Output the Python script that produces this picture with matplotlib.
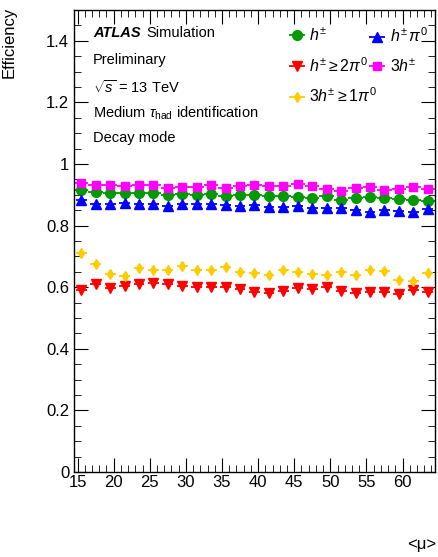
import numpy as np
import matplotlib
matplotlib.use("Agg")
import matplotlib.pyplot as plt
from matplotlib.ticker import MultipleLocator

plt.rcParams['font.family'] = ['Liberation Sans', 'DejaVu Sans']
plt.rcParams['mathtext.fontset'] = 'custom'
plt.rcParams['mathtext.rm'] = 'Liberation Sans'
plt.rcParams['mathtext.it'] = 'Liberation Sans:italic'
plt.rcParams['mathtext.bf'] = 'Liberation Sans:bold'

# --- data: efficiency vs <mu>, bins of width 2 ---
mu = np.arange(15.5, 64.0, 2.0)

eff_1p0n = [0.915, 0.909, 0.905, 0.905, 0.905, 0.906, 0.900, 0.901, 0.900, 0.902, 0.896, 0.898, 0.899,
            0.895, 0.895, 0.894, 0.890, 0.896, 0.883, 0.890, 0.892, 0.890, 0.887, 0.882, 0.879]
eff_1p1n = [0.882, 0.871, 0.871, 0.872, 0.871, 0.869, 0.864, 0.869, 0.870, 0.871, 0.867, 0.864, 0.867,
            0.860, 0.862, 0.865, 0.856, 0.856, 0.858, 0.850, 0.845, 0.852, 0.847, 0.845, 0.854]
eff_1pXn = [0.592, 0.611, 0.599, 0.603, 0.609, 0.615, 0.609, 0.604, 0.601, 0.602, 0.602, 0.594, 0.584,
            0.582, 0.589, 0.598, 0.595, 0.600, 0.589, 0.582, 0.584, 0.586, 0.579, 0.591, 0.586]
eff_3p0n = [0.939, 0.932, 0.931, 0.929, 0.931, 0.932, 0.923, 0.926, 0.926, 0.932, 0.923, 0.928, 0.932,
            0.927, 0.928, 0.934, 0.930, 0.918, 0.912, 0.923, 0.926, 0.915, 0.919, 0.925, 0.918]
eff_3pXn = [0.711, 0.676, 0.643, 0.636, 0.661, 0.656, 0.655, 0.668, 0.655, 0.655, 0.664, 0.648, 0.645,
            0.639, 0.656, 0.648, 0.643, 0.639, 0.649, 0.641, 0.656, 0.654, 0.625, 0.619, 0.645]

labels = [r'$h^{\pm}$', r'$h^{\pm}\geq 2\pi^{0}$', r'$3h^{\pm}\geq 1\pi^{0}$',
          r'$h^{\pm}\,\pi^{0}$', r'$3h^{\pm}$']

fig = plt.figure(figsize=(4.39, 5.57), dpi=100)
ax = fig.add_axes([74/439, 85/557, 361/439, 462/557])

styles = [
    (eff_1p0n, '#009900', 'o', 7.0, 1.0),
    (eff_1pXn, '#ff0000', 'v', 6.5, 0.75),
    (eff_3pXn, '#ffcc00', 'd', 5.5, 0.75),
    (eff_1p1n, '#0000ff', '^', 6.5, 0.75),
    (eff_3p0n, '#ff00ff', 's', 6.0, 1.0),
]
handles = []
for (vals, col, mk, ms, xe), lab in zip(styles, labels):
    h = ax.errorbar(mu, vals, xerr=xe, fmt=mk, color=col, ms=ms, lw=1.3,
                    capsize=0, label=lab)
    handles.append(h)

ax.set_xlim(14.5, 64.5)
ax.set_ylim(0, 1.5)
ax.xaxis.set_minor_locator(MultipleLocator(1))
ax.yaxis.set_minor_locator(MultipleLocator(0.05))
ax.set_xticks(np.arange(15, 61, 5))
ax.set_yticks(np.arange(0, 1.41, 0.2))
ax.set_yticklabels(['0', '0.2', '0.4', '0.6', '0.8', '1', '1.2', '1.4'])
ax.tick_params(which='both', direction='in', top=True, right=True, labelsize=12)
ax.tick_params(which='major', length=10)
ax.tick_params(which='minor', length=5)
ax.tick_params(axis='x', pad=2)
for s in ax.spines.values():
    s.set_linewidth(1.0)

leg_kw = dict(frameon=False, fontsize=11.5, loc='upper left', handlelength=1.0,
              handletextpad=0.3, labelspacing=0.75)
leg1 = ax.legend(handles[:3], labels[:3], bbox_to_anchor=(0.555, 0.995), **leg_kw)
ax.add_artist(leg1)
ax.legend(handles[3:], labels[3:], bbox_to_anchor=(0.777, 0.995), **leg_kw)

fs = 10.5
fig.text(93/439, 1 - 33/557, 'ATLAS', fontsize=fs, fontweight='bold', style='italic', va='center')
fig.text(146/439, 1 - 33/557, 'Simulation', fontsize=fs, va='center')
fig.text(93/439, 1 - 60/557, 'Preliminary', fontsize=fs, va='center')
fig.text(93/439, 1 - 87/557, r'$\sqrt{s}$ = 13 TeV', fontsize=fs, va='center')
fig.text(93/439, 1 - 113/557, r'Medium $\tau_{\mathrm{had}}$ identification', fontsize=fs, va='center')
fig.text(93/439, 1 - 138/557, 'Decay mode', fontsize=fs, va='center')

fig.text(9.5/439, 1 - 7/557, 'Efficiency', rotation=90, fontsize=12, ha='center', va='top')
fig.text(436/439, 1 - 545/557, '<μ>', fontsize=12, ha='right', va='center')

fig.savefig('out.png', dpi=100)
